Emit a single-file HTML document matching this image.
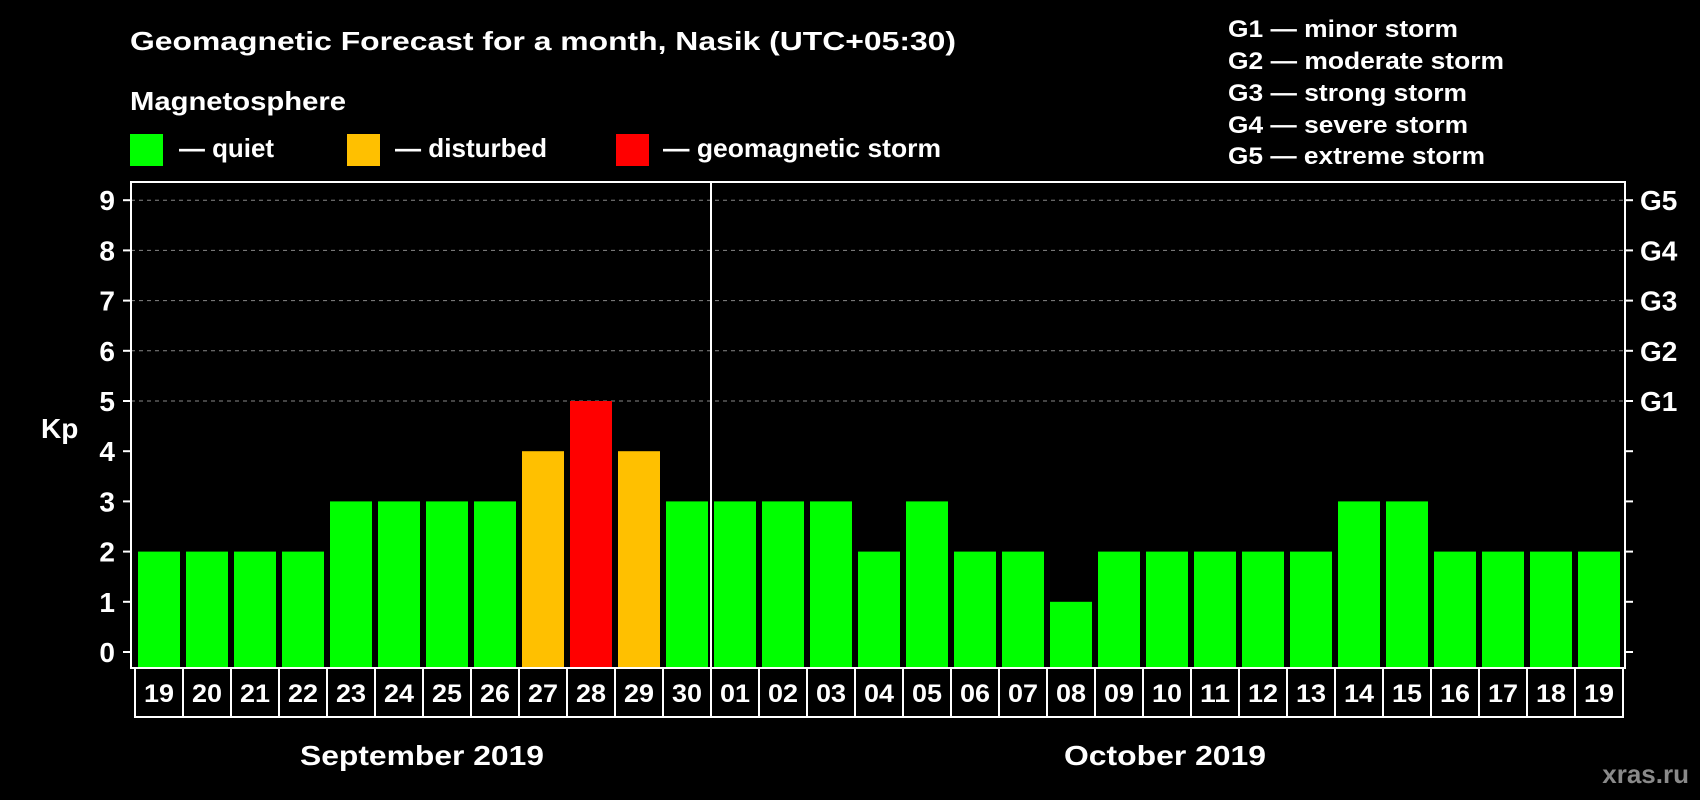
<!DOCTYPE html>
<html><head><meta charset="utf-8"><style>
html,body{margin:0;padding:0;background:#000;}
svg{display:block;font-family:"Liberation Sans",sans-serif;font-weight:bold;}
</style></head><body>
<svg id="chart" width="1700" height="800" viewBox="0 0 1700 800">
<rect width="1700" height="800" fill="#000"/>
<text x="130" y="50" font-size="26" fill="#fff" textLength="826" lengthAdjust="spacingAndGlyphs">Geomagnetic Forecast for a month, Nasik (UTC+05:30)</text>
<text x="130" y="110" font-size="26" fill="#fff" textLength="216" lengthAdjust="spacingAndGlyphs">Magnetosphere</text>
<g>
<rect x="130" y="134" width="33" height="32" fill="#00ff00"/>
<text x="179" y="157" font-size="26" fill="#fff" textLength="95" lengthAdjust="spacingAndGlyphs">— quiet</text></g>
<g>
<rect x="347" y="134" width="33" height="32" fill="#ffc000"/>
<text x="395" y="157" font-size="26" fill="#fff" textLength="152" lengthAdjust="spacingAndGlyphs">— disturbed</text></g>
<g>
<rect x="616" y="134" width="33" height="32" fill="#ff0000"/>
<text x="663" y="157" font-size="26" fill="#fff" textLength="278" lengthAdjust="spacingAndGlyphs">— geomagnetic storm</text></g>
<g font-size="24" fill="#fff">
<text x="1228" y="37" textLength="230" lengthAdjust="spacingAndGlyphs">G1 — minor storm</text>
<text x="1228" y="69" textLength="276" lengthAdjust="spacingAndGlyphs">G2 — moderate storm</text>
<text x="1228" y="101" textLength="239" lengthAdjust="spacingAndGlyphs">G3 — strong storm</text>
<text x="1228" y="133" textLength="240" lengthAdjust="spacingAndGlyphs">G4 — severe storm</text>
<text x="1228" y="164" textLength="257" lengthAdjust="spacingAndGlyphs">G5 — extreme storm</text>
</g>
<text x="41" y="438" font-size="28" fill="#fff">Kp</text>
<g id="grid"></g>
<g id="bars"></g>
<g id="axes"></g>
<text x="422" y="765" font-size="28" fill="#fff" text-anchor="middle" textLength="244" lengthAdjust="spacingAndGlyphs">September 2019</text>
<text x="1165" y="765" font-size="28" fill="#fff" text-anchor="middle" textLength="202" lengthAdjust="spacingAndGlyphs">October 2019</text>
<text x="1689" y="783" font-size="26" fill="#8a8a8a" text-anchor="end">xras.ru</text>
</svg>
<script>
const days = ["19","20","21","22","23","24","25","26","27","28","29","30","01","02","03","04","05","06","07","08","09","10","11","12","13","14","15","16","17","18","19"];
const kpValues = [2,2,2,2,3,3,3,3,4,5,4,3,3,3,3,2,3,2,2,1,2,2,2,2,2,3,3,2,2,2,2];
const yTicks = [0,1,2,3,4,5,6,7,8,9];
const gLabels = ["G1","G2","G3","G4","G5"];
const gLevels = [5,6,7,8,9];
const monthSplitIndex = 12;

const NS = "http://www.w3.org/2000/svg";
const L = 131, R = 1625, T = 182, B = 668;
const x0 = 138, pitch = 48, bw = 42;
const y = v => 652 - v * 50.2;
const xb = i => x0 + i * pitch;
function mk(tag, attrs, parent) {
  const e = document.createElementNS(NS, tag);
  for (const k in attrs) e.setAttribute(k, attrs[k]);
  parent.appendChild(e);
  return e;
}
const grid = document.getElementById("grid");
const bars = document.getElementById("bars");
const axes = document.getElementById("axes");

gLevels.forEach(v => {
  const ln = mk("line", {x1: L, x2: R, y1: y(v), y2: y(v), stroke: "#888", "stroke-width": 1, "stroke-dasharray": "4,4"}, grid);
  
  
});

function color(v) { return v >= 5 ? "#ff0000" : (v >= 4 ? "#ffc000" : "#00ff00"); }
kpValues.forEach((v, i) => {
  const r = mk("rect", {x: xb(i), y: y(v), width: bw, height: B - 1 - y(v), fill: color(v)}, bars);
  
  
});

const frame = mk("rect", {x: L, y: T, width: R - L, height: B - T, fill: "none", stroke: "#fff", "stroke-width": 2}, axes);



const sx = xb(monthSplitIndex) - 3;
const sep = mk("line", {x1: sx, x2: sx, y1: T, y2: B, stroke: "#fff", "stroke-width": 2}, axes);



yTicks.forEach(v => {
  const t = mk("line", {x1: L - 8, x2: L, y1: y(v), y2: y(v), stroke: "#fff", "stroke-width": 2}, axes);
  
  
  const t2 = mk("line", {x1: R, x2: R + 8, y1: y(v), y2: y(v), stroke: "#fff", "stroke-width": 2}, axes);
  
  
  const lb = mk("text", {x: 115, y: y(v) + 10, "font-size": 28, fill: "#fff", "text-anchor": "end"}, axes);
  lb.textContent = v;
  
  
});

gLabels.forEach((g, i) => {
  const lb = mk("text", {x: 1640, y: y(gLevels[i]) + 10, "font-size": 28, fill: "#fff"}, axes);
  lb.textContent = g;
  
  
});

const boxTop = B, boxBot = 717;
const dl = xb(0) - 3, dr = xb(days.length - 1) + bw + 3;
const box = mk("rect", {x: dl, y: boxTop, width: dr - dl, height: boxBot - boxTop, fill: "none", stroke: "#fff", "stroke-width": 2}, axes);


days.forEach((d, i) => {
  if (i > 0) {
    const dv = mk("line", {x1: xb(i) - 3, x2: xb(i) - 3, y1: boxTop, y2: boxBot, stroke: "#fff", "stroke-width": 2}, axes);
    
    
  }
  const t = mk("text", {x: xb(i) + bw / 2, y: 702, "font-size": 25, fill: "#fff", "text-anchor": "middle", textLength: 30, lengthAdjust: "spacingAndGlyphs"}, axes);
  t.textContent = d;
  
  
});
</script>
</body></html>
